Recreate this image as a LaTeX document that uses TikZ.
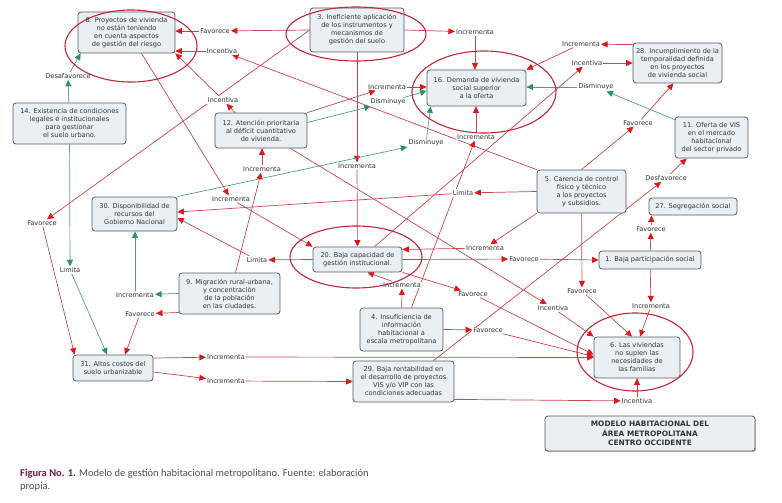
\documentclass[tikz,border=0pt]{standalone}
\usepackage{fontspec}
\setmainfont{DejaVu Sans}
\newfontfamily\capfont{Carlito}
\usetikzlibrary{arrows.meta,backgrounds,shadows}
\definecolor{linkred}{RGB}{200,70,80}
\definecolor{tipred}{RGB}{226,20,30}
\definecolor{linkgreen}{RGB}{85,160,125}
\definecolor{tipgreen}{RGB}{40,150,90}
\definecolor{ellred}{RGB}{192,40,56}
\definecolor{boxfill}{RGB}{233,239,243}
\definecolor{boxline}{RGB}{85,90,95}
\definecolor{figpurple}{RGB}{110,30,80}
\definecolor{capgray}{RGB}{80,80,80}
\begin{document}
\begin{tikzpicture}[x=1pt,y=-1pt,
  caja/.style={draw=boxline,fill=boxfill,rounded corners=3pt,line width=0.8pt,align=center,inner sep=1pt,font=\fontsize{6.6}{8}\selectfont,text=black!80},
  etq/.style={fill=white,inner sep=1pt,font=\fontsize{6.6}{7.6}\selectfont,text=black!80},
  rojo/.style={draw=linkred,line width=0.7pt,-{Triangle[length=6.5pt,width=6pt,color=tipred]}},
  verde/.style={draw=linkgreen,line width=0.7pt,-{Triangle[length=6.5pt,width=6pt,color=tipgreen]}},
  elipse/.style={draw=ellred,line width=1.1pt}]
  \useasboundingbox (0,0) rectangle (782,503);

  \node[caja,minimum width=97pt,minimum height=41pt] (riesgo) at (126.5,32.5) {8. Proyectos de vivienda\\ no están teniendo\\ en cuenta aspectos\\ de gestión del riesgo};
  \node[caja,minimum width=94pt,minimum height=44pt] (suelo) at (357,30) {3. Ineficiente aplicación\\ de los instrumentos y\\ mecanismos de\\ gestión del suelo};
  \node[caja,minimum width=99pt,minimum height=36pt] (demanda) at (476.5,88) {16. Demanda de vivienda\\ social superior\\ a la oferta};
  \node[caja,minimum width=89pt,minimum height=40pt] (incumpl) at (677.5,63) {28. Incumplimiento de la\\ temporalidad definida\\ en los proyectos\\ de vivienda social};
  \node[caja,minimum width=73pt,minimum height=41pt] (oferta) at (711.5,137.5) {11. Oferta de VIS\\ en el mercado\\ habitacional\\ del sector privado};
  \node[caja,minimum width=113pt,minimum height=41pt] (legal) at (69.5,123.5) {14. Existencia de condiciones\\ legales e institucionales\\ para gestionar\\ el suelo urbano.};
  \node[caja,minimum width=92pt,minimum height=35pt] (atencion) at (261,130.5) {12. Atención prioritaria\\ al déficit cuantitativo\\ de vivienda.};
  \node[caja,minimum width=85pt,minimum height=34pt] (recursos) at (134.5,214) {30. Disponibilidad de\\ recursos del\\ Gobierno Nacional};
  \node[caja,minimum width=89pt,minimum height=43pt] (control) at (581.5,191.5) {5. Carencia de control\\ físico y técnico\\ a los proyectos\\ y subsidios.};
  \node[caja,minimum width=88pt,minimum height=17pt] (segreg) at (693,206.5) {27. Segregación social};
  \node[caja,minimum width=89pt,minimum height=25pt] (capacidad) at (357.5,259.5) {20. Baja capacidad de\\ gestión institucional.};
  \node[caja,minimum width=102pt,minimum height=18pt] (particip) at (650,260) {1. Baja participación social};
  \node[caja,minimum width=101pt,minimum height=41pt] (migra) at (229.5,293.5) {9. Migración rural-urbana,\\ y concentración\\ de la población\\ en las ciudades.};
  \node[caja,minimum width=83pt,minimum height=43pt] (info) at (401.5,329.5) {4. Insuficiencia de\\ información\\ habitacional a\\ escala metropolitana};
  \node[caja,minimum width=80pt,minimum height=26pt] (costos) at (113,368) {31. Altos costos del\\ suelo urbanizable};
  \node[caja,minimum width=86pt,minimum height=41pt] (vivienda) at (637,357.5) {6. Las viviendas\\ no suplen las\\ necesidades de\\ las familias};
  \node[caja,minimum width=101pt,minimum height=41pt] (rentab) at (403.5,381.5) {29. Baja rentabilidad en\\ el desarrollo de proyectos\\ VIS y/o VIP con las\\ condiciones adecuadas};
  \node[caja,drop shadow={shadow xshift=1.2pt,shadow yshift=-1.2pt,fill=black!45},minimum width=210pt,minimum height=35pt,font=\bfseries\fontsize{7.4}{9.3}\selectfont] (titulo) at (650,433.5) {MODELO HABITACIONAL DEL\\ ÁREA METROPOLITANA\\ CENTRO OCCIDENTE};

  \node[etq] (favA) at (215,31) {Favorece};
  \node[etq] (incA) at (222,51) {Incentiva};
  \node[etq] (incB) at (223,100) {Incentiva};
  \node[etq] (desaf) at (68,76) {Desafavorece};
  \node[etq] (favI) at (42,223) {Favorece};
  \node[etq] (limC) at (70,270) {Limita};
  \node[etq] (incrJ) at (135,295) {Incrementa};
  \node[etq] (favH) at (140,314) {Favorece};
  \node[etq] (limB) at (257,260) {Limita};
  \node[etq] (incrG) at (231,199) {Incrementa};
  \node[etq] (incrF) at (262,169) {Incrementa};
  \node[etq] (incrE) at (357,166) {Incrementa};
  \node[etq] (incrA) at (475,32) {Incrementa};
  \node[etq] (incrB) at (387,87) {Incrementa};
  \node[etq] (dismA) at (388,102) {Disminuye};
  \node[etq] (dismC) at (426,143) {Disminuye};
  \node[etq] (incrD) at (476,137) {Incrementa};
  \node[etq] (incrC) at (581,44) {Incrementa};
  \node[etq] (incC) at (587,63) {Incentiva};
  \node[etq] (dismB) at (596,87) {Disminuye};
  \node[etq] (favB) at (638,123) {Favorece};
  \node[etq] (desfav) at (666,178) {Desfavorece};
  \node[etq] (limA) at (463,193) {Limita};
  \node[etq] (incrH) at (485,248) {Incrementa};
  \node[etq] (favC) at (524,259) {Favorece};
  \node[etq] (favG) at (651,229) {Favorece};
  \node[etq] (favD) at (473,294) {Favorece};
  \node[etq] (favF) at (582,291) {Favorece};
  \node[etq] (incrI) at (651,306) {Incrementa};
  \node[etq] (incD) at (553,308) {Incentiva};
  \node[etq] (favE) at (488,330) {Favorece};
  \node[etq] (incrM) at (402,285) {Incrementa};
  \node[etq] (incrK) at (226,357) {Incrementa};
  \node[etq] (incrL) at (226,381) {Incrementa};
  \node[etq] (incE) at (637,401) {Incentiva};

  \node[anchor=north west,align=left,inner sep=0pt,font=\capfont\fontsize{10.5}{13}\selectfont,text=capgray] (pie) at (20,469) {\textcolor{figpurple}{\textbf{Figura No. 1.}} Modelo de gestión habitacional metropolitano. Fuente: elaboración\\ propia.};

  \draw[elipse] (131,46) ellipse [x radius=66pt,y radius=36pt];
  \draw[elipse] (356,34) ellipse [x radius=70pt,y radius=27pt];
  \draw[elipse] (484,92) ellipse [x radius=72pt,y radius=41pt];
  \draw[elipse] (356,257) ellipse [x radius=66pt,y radius=31pt];
  \draw[elipse] (635,352) ellipse [x radius=58pt,y radius=39pt];

  \begin{scope}[on background layer]
  \draw[rojo] (suelo.west) -- (favA);
  \draw[rojo] (favA) -- (riesgo.east |- favA);
  \draw[rojo] (control.north west) -- (incA);
  \draw[rojo] (incA) -- (riesgo.east |- incA);
  \draw[rojo] ([xshift=-26pt]atencion.north) -- (incB);
  \draw[rojo] (incB) -- (riesgo.south east);
  \draw[verde] (legal) -- (desaf);
  \draw[verde] (desaf) -- ([xshift=3pt]riesgo.south west);
  \draw[verde] (legal) -- (limC);
  \draw[verde] (limC) -- (costos);
  \draw[rojo] (suelo.west) -- (favI);
  \draw[rojo] (favI) -- ([xshift=2pt]costos.north west);
  \draw[rojo] (suelo.east) -- (incrA);
  \draw[rojo] (incrA) -- (incrA |- demanda.north);
  \draw[rojo] (suelo) -- (incrE);
  \draw[rojo] (incrE) -- (capacidad);
  \draw[rojo] (atencion.north east) -- (incrB);
  \draw[rojo] (incrB) -- (demanda.west |- incrB);
  \draw[verde] ([yshift=8pt]atencion.east) -- (dismA);
  \draw[verde] (dismA) -- ([yshift=-3pt]demanda.west);
  \draw[verde] (recursos.north east) -- (dismC);
  \draw[verde] (dismC) -- ([xshift=4pt]demanda.south west);
  \draw[rojo] ([xshift=10pt]info.north) -- (incrD);
  \draw[rojo] (incrD) -- (incrD |- demanda.south);
  \draw[rojo] ([yshift=-2pt]incumpl.north west) -- (incrC);
  \draw[rojo] (incrC) -- (demanda.north east);
  \draw[rojo] (control.north) -- (favB);
  \draw[rojo] (favB) -- ([xshift=-4pt]incumpl.south);
  \draw[rojo] ([xshift=17pt]capacidad.north) -- (incC);
  \draw[rojo] (incC) -- (incumpl.west |- incC);
  \draw[verde] ([yshift=-3pt]oferta.north west) -- (dismB);
  \draw[verde] (dismB) -- (demanda.east |- dismB);
  \draw[rojo] ([xshift=30pt]rentab.north) -- (desfav);
  \draw[rojo] (desfav) -- ([xshift=12pt]oferta.south west);
  \draw[rojo] (control.west) -- (limA);
  \draw[rojo] (limA) -- ([yshift=2pt]recursos.east);
  \draw[rojo] (capacidad.west) -- (limB);
  \draw[rojo] (limB) -- ([yshift=-4pt]recursos.east);
  \draw[rojo] ([xshift=6pt]migra.north) -- (incrF);
  \draw[rojo] (incrF) -- (incrF |- atencion.south);
  \draw[rojo] ([xshift=15pt]riesgo.south) -- (incrG);
  \draw[rojo] (incrG) -- (capacidad.north west);
  \draw[rojo] (control.south west) -- (incrH);
  \draw[rojo] (incrH) -- ([yshift=10pt]capacidad.east);
  \draw[rojo] (capacidad.east) -- (favC);
  \draw[rojo] (favC) -- (particip.west);
  \draw[rojo] (capacidad.south east) -- (favD);
  \draw[rojo] (favD) -- ([yshift=3pt]vivienda.west);
  \draw[rojo] (info.east) -- (favE);
  \draw[rojo] (favE) -- ([yshift=1pt]vivienda.west);
  \draw[rojo] ([yshift=10pt]costos.east) -- (incrK);
  \draw[rojo] (incrK) -- (vivienda.west);
  \draw[rojo] ([yshift=-4pt]costos.east) -- (incrL);
  \draw[rojo] (incrL) -- (rentab.west);
  \draw[rojo] ([yshift=3pt]rentab.south east) -- (incE);
  \draw[rojo] (incE) -- (vivienda.south);
  \draw[rojo] ([xshift=-17pt]atencion.south east) -- (incD);
  \draw[rojo] (incD) -- (vivienda.north west);
  \draw[rojo] (control) -- (favF);
  \draw[rojo] (favF) -- ([xshift=-5pt]vivienda.north);
  \draw[rojo] (particip) -- (incrI);
  \draw[rojo] (incrI) -- ([xshift=3pt]vivienda.north);
  \draw[rojo] (particip) -- (favG);
  \draw[rojo] (favG) -- ([xshift=3pt]segreg.south west);
  \draw[verde] (migra.west) -- (incrJ);
  \draw[verde] (incrJ) -- (incrJ |- recursos.south);
  \draw[rojo] ([yshift=-19pt]migra.west) -- (favH);
  \draw[rojo] (favH) -- ([xshift=12pt]costos.north);
  \draw[rojo] (info) -- (incrM);
  \draw[rojo] (incrM) -- ([xshift=10pt]capacidad.south);
  \end{scope}
\end{tikzpicture}
\end{document}
